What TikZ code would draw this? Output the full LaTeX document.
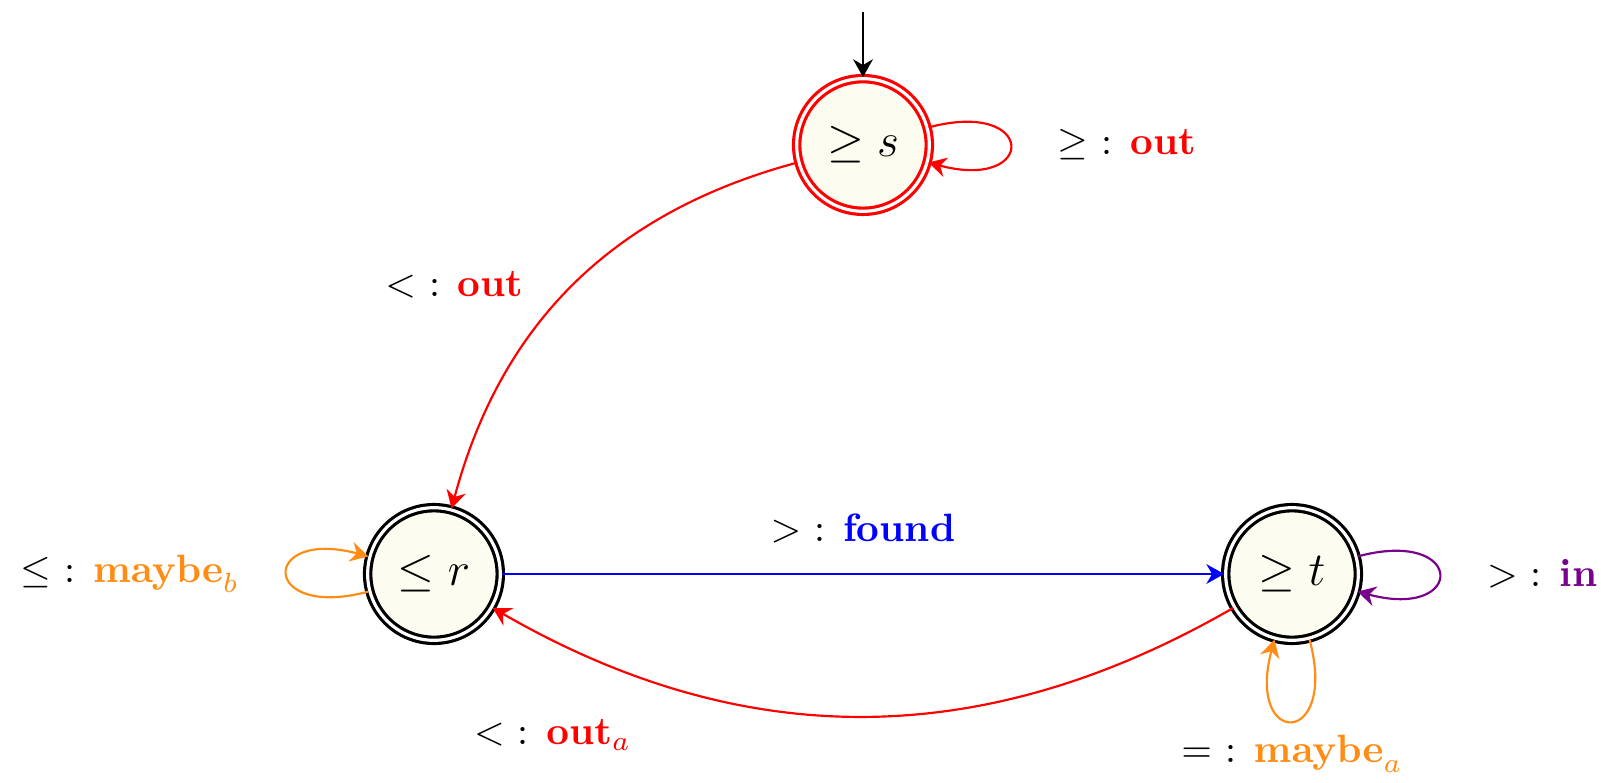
\documentclass[tikz,border=0pt]{standalone}
\usetikzlibrary{arrows.meta,positioning}
\definecolor{statefill}{RGB}{253,252,240}
\definecolor{maybeorange}{RGB}{255,140,20}
\definecolor{inviolet}{RGB}{120,0,140}
\begin{document}
\begin{tikzpicture}[>={Stealth[length=4.5pt,width=5pt]}, line width=0.55pt,
    statenode/.style={circle, draw, double, double distance=0.8pt, line width=0.8pt,
        fill=statefill, minimum size=1.18cm, inner sep=0pt, font=\large},
    selfloop/.style={looseness=8, min distance=1cm}]

\useasboundingbox (0,0) rectangle (14.244,6.966);

\node(s)[statenode, draw=red] at (7.678, 5.676) {$\geq s$};
\node(r)[statenode] at (3.861, 1.859) {$\leq r$};
\node(t)[statenode] at (11.495, 1.859) {$\geq t$};
\coordinate(start) at (7.678, 6.859);

\draw[->] (start)--(s);

\draw[->, red] (s) to[out=15, in=-15, selfloop] 
    node[right=0.3cm, text=black]{$\geq$ : \textcolor{red}{\textbf{out}}} (s);
\draw[->, red] (s) to[bend right=30] 
    node[midway, left=0.32cm, text=black]{$<$ : \textcolor{red}{\textbf{out}}} (r);
\draw[->, blue] (r)--(t) 
    node[midway, above=0.15cm, text=black]{$>$ : \textcolor{blue}{\textbf{found}}};
\draw[->, red] (t) to[bend left=30] 
    node[pos=0.92, below=0.58cm, text=black]{$<$ : \textcolor{red}{$\mathbf{out}_a$}} (r);

\draw[->, maybeorange] (r) to[out=195, in=165, selfloop] 
    node[left=0.3cm, text=black]{$\leq$ : \textcolor{maybeorange}{$\mathbf{maybe}_b$}} (r);
\draw[->, inviolet] (t) to[out=15, in=-15, selfloop] 
    node[right=0.3cm, text=black]{$>$ : \textcolor{inviolet}{\textbf{in}}} (t);
\draw[->, maybeorange] (t) to[out=-75, in=-105, selfloop] 
    node[below, text=black]{$=$ : \textcolor{maybeorange}{$\mathbf{maybe}_a$}} (t);
\end{tikzpicture}
\end{document}
